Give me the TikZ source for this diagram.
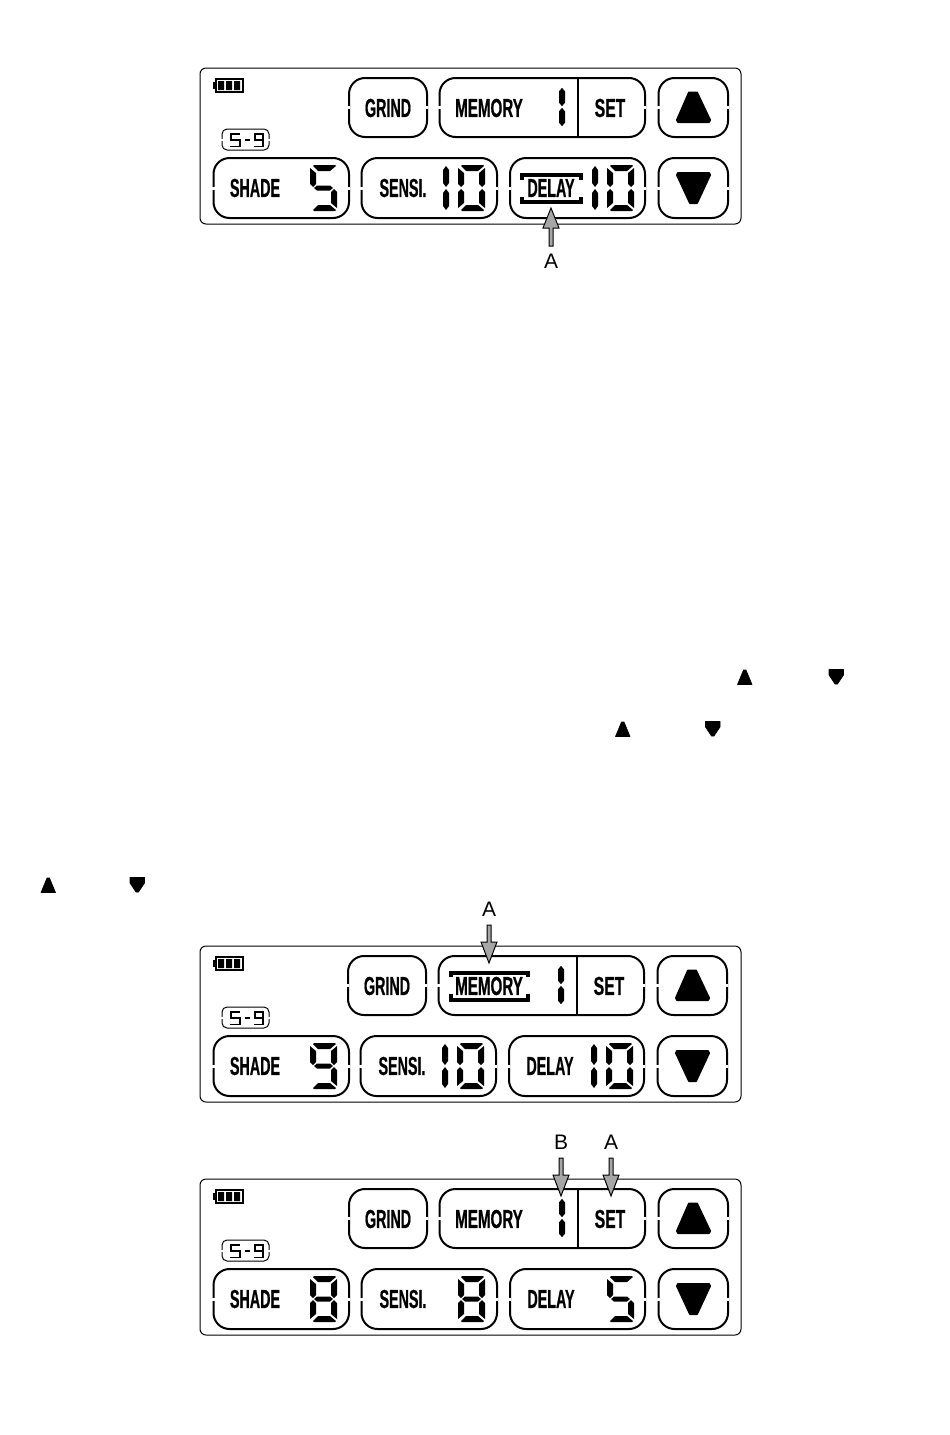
\documentclass[tikz,border=0pt]{standalone}
\usepackage{fontspec}
\setmainfont{Liberation Sans}
\newfontfamily\lcdfont[FakeStretch=0.55,FakeBold=0.6]{Liberation Sans Bold}
\tikzset{
  lcdbox/.style={draw=black,line width=2pt,rounded corners=16pt,fill=white},
  gapmark/.style={draw=white,line width=2.4pt},
  lcdtext/.style={font=\lcdfont\fontsize{26}{26}\selectfont,text=black,inner sep=0pt},
  calllabel/.style={font=\fontsize{21}{21}\selectfont,text=black,inner sep=0pt},
  callarrow/.style={draw=black,line width=1pt,fill=black!35,line join=miter},
  tri/.style={fill=black,draw=black,line width=2pt,line join=round},
  smalltri/.style={fill=black,draw=black,line width=.6pt,line join=round},
  seven/.style={fill=black,draw=none},
  bracket/.style={draw=black,line width=3.6pt}
}
\newcommand\sega{\fill[seven] (4,0)--(25,0)--(26,1)--(20,6)--(8,6)--(3,1)--cycle;}
\newcommand\segb{\fill[seven] (27,3)--(27,19)--(24,22)--(21,19)--(21,8)--cycle;}
\newcommand\segc{\fill[seven] (27,43)--(27,27)--(24,24)--(21,27)--(21,38)--cycle;}
\newcommand\segd{\fill[seven] (4,46)--(25,46)--(26,45)--(20,40)--(8,40)--(3,45)--cycle;}
\newcommand\sege{\fill[seven] (0,43)--(0,27)--(3,24)--(6,27)--(6,38)--cycle;}
\newcommand\segf{\fill[seven] (0,3)--(0,19)--(3,22)--(6,19)--(6,8)--cycle;}
\newcommand\segg{\fill[seven] (7,20.5)--(20,20.5)--(23,23)--(20,25.5)--(7,25.5)--(4,23)--cycle;}
% symmetric pills of a lone 1
\newcommand\segh{\fill[seven] (3,1)--(6,5)--(6,18)--(3,22)--(0,18)--(0,5)--cycle;}
\newcommand\segi{\fill[seven] (3,24)--(6,28)--(6,41)--(3,45)--(0,41)--(0,28)--cycle;}
\newcommand\dig[3]{\begin{scope}[shift={(#1,#2)}]\foreach \s in {#3}{\csname seg\s\endcsname}\end{scope}}
% one lcd button with gaps at mid height
\newcommand\btn[4]{%
  \draw[lcdbox] (#1,#2) rectangle (#3,#4);
  \draw[gapmark] (#1,{(#2+#4)/2-1.5}) -- (#1,{(#2+#4)/2+1.5});
  \draw[gapmark] (#3,{(#2+#4)/2-1.5}) -- (#3,{(#2+#4)/2+1.5});
}
% #1 id, #2 y offset, #3 x offset of inner items, #4 shade segs, #5 sensi tens (0/1), #6 sensi segs, #7 delay tens, #8 delay segs
\newcommand\lcdpanel[8]{%
\begin{scope}[shift={(0,#2)}]
  \draw[black,line width=1pt,rounded corners=6pt] (200,68) rectangle (741,224);
  % battery
  \draw[black,line width=1.5pt] (216,79) rectangle (243,92);
  \fill[black] (213,82) rectangle (216,89);
  \fill[black] (218,81) rectangle (224,90) (226,81) rectangle (232,90) (234,81) rectangle (240,90);
  % S-9 tag
  \draw[black,line width=1pt,rounded corners=5pt] (222,129) rectangle (269,150);
  \draw[gapmark,line width=1.4pt] (222,138.5) -- (222,140.5) (269,138.5) -- (269,140.5);
  \draw[black,line width=1.5pt] (240,134) -- (231,134) -- (231,140) -- (240,140) -- (240,146.5) -- (230,146.5);
  \draw[black,line width=1.7pt] (245,140) -- (250,140);
  \draw[black,line width=1.5pt] (254,146.5) -- (263,146.5) -- (263,134) -- (255,134) -- (255,140) -- (263,140);
  \begin{scope}[shift={(#3,0)}]
    \btn{349}{78}{427}{137}
    \node[lcdtext] (#1grind) at (388,108) {GRIND};
    \btn{439.5}{78}{645}{137}
    \draw[black,line width=2pt] (578,78) -- (578,137);
    \begin{scope}[shift={(559,87)},yscale=.87]
      \segh \segi
    \end{scope}
    \node[lcdtext] (#1set) at (610,108) {\scalebox{1.1}[1]{SET}};
    \btn{658.5}{78}{728}{137}
    \fill[tri] (689,92.5) -- (697,92.5) -- (710,120) -- (709,122) -- (678,122) -- (677,120) -- cycle;
  \end{scope}
  \btn{213.5}{158}{349}{218}
  \node[lcdtext] (#1shade) at (255,188) {SHADE};
  \dig{310}{165}{#4}
  \begin{scope}[shift={(#3,0)}]
    \btn{361.5}{158}{497}{218}
    \node[lcdtext] (#1sensi) at (403,188) {SENSI.};
    \ifnum#5=1 \dig{443}{165}{h,i}\fi
    \dig{458}{165}{#6}
    \btn{510}{158}{645}{218}
    \node[lcdtext] (#1delay) at (551,188) {DELAY};
    \ifnum#7=1 \dig{592}{165}{h,i}\fi
    \dig{607}{165}{#8}
    \btn{658.5}{158}{728}{218}
    \fill[tri] (678,173) -- (709,173) -- (710,175) -- (697,203) -- (690,203) -- (677,175) -- cycle;
  \end{scope}
\end{scope}}
\newcommand\memlabel{\scalebox{1.06}[1]{MEMORY}}
\begin{document}
\begin{tikzpicture}[x=1pt,y=-1pt]
\useasboundingbox (0,0) rectangle (950,1435);
% first panel
\lcdpanel{p}{0}{0}{a,f,g,c,d}{1}{a,b,c,d,e,f}{1}{a,b,c,d,e,f}
\node[lcdtext] (pmem) at (489,108) {\memlabel};
\draw[bracket] (522,180) -- (522,175) -- (581,175) -- (581,180);
\draw[bracket] (522,197) -- (522,202) -- (581,202) -- (581,197);
\coordinate (ptip) at (551,208);
\draw[callarrow] (ptip) -- (559,228) -- (553,228) -- (553,246) -- (549,246) -- (549,228) -- (543,228) -- cycle;
\node[calllabel] (plabel) at (551,261) {A};
% small triangles in the page
\fill[smalltri] (743.5,670) -- (746,670) -- (752,684.5) -- (737.5,684.5) -- cycle;
\fill[smalltri] (829,669.5) -- (843.5,669.5) -- (843.5,675) -- (837.5,684) -- (835,684) -- (829,675) -- cycle;
\fill[smalltri] (621.5,722) -- (624,722) -- (630,736.5) -- (615.5,736.5) -- cycle;
\fill[smalltri] (705.5,721.5) -- (720,721.5) -- (720,727) -- (714,736) -- (711.5,736) -- (705.5,727) -- cycle;
\fill[smalltri] (47,878) -- (49.5,878) -- (55.5,892.5) -- (41,892.5) -- cycle;
\fill[smalltri] (130,877.5) -- (144.5,877.5) -- (144.5,883) -- (138.5,892) -- (136,892) -- (130,883) -- cycle;
% second panel
\lcdpanel{q}{878}{-1}{a,b,c,d,f,g}{1}{a,b,c,d,e,f}{1}{a,b,c,d,e,f}
\node[lcdtext] (qmem) at (489,986) {\memlabel};
\draw[bracket] (451,977) -- (451,973) -- (528,973) -- (528,977);
\draw[bracket] (451,994) -- (451,1000) -- (528,1000) -- (528,994);
\coordinate (qtip) at (489,963);
\draw[callarrow] (qtip) -- (481,942) -- (487,942) -- (487,925) -- (491,925) -- (491,942) -- (497,942) -- cycle;
\node[calllabel] (qlabel) at (489,909) {A};
% third panel
\lcdpanel{r}{1111}{0}{a,b,c,d,e,f,g}{0}{a,b,c,d,e,f,g}{0}{a,f,g,c,d}
\node[lcdtext] (rmem) at (489,1219) {\memlabel};
\coordinate (rtipb) at (561,1196);
\draw[callarrow] (rtipb) -- (553,1175) -- (559,1175) -- (559,1158) -- (563,1158) -- (563,1175) -- (569,1175) -- cycle;
\node[calllabel] (rlabelb) at (561,1142) {B};
\coordinate (rtipa) at (611,1196);
\draw[callarrow] (rtipa) -- (603,1175) -- (609,1175) -- (609,1158) -- (613,1158) -- (613,1175) -- (619,1175) -- cycle;
\node[calllabel] (rlabela) at (611,1142) {A};
\end{tikzpicture}
\end{document}
